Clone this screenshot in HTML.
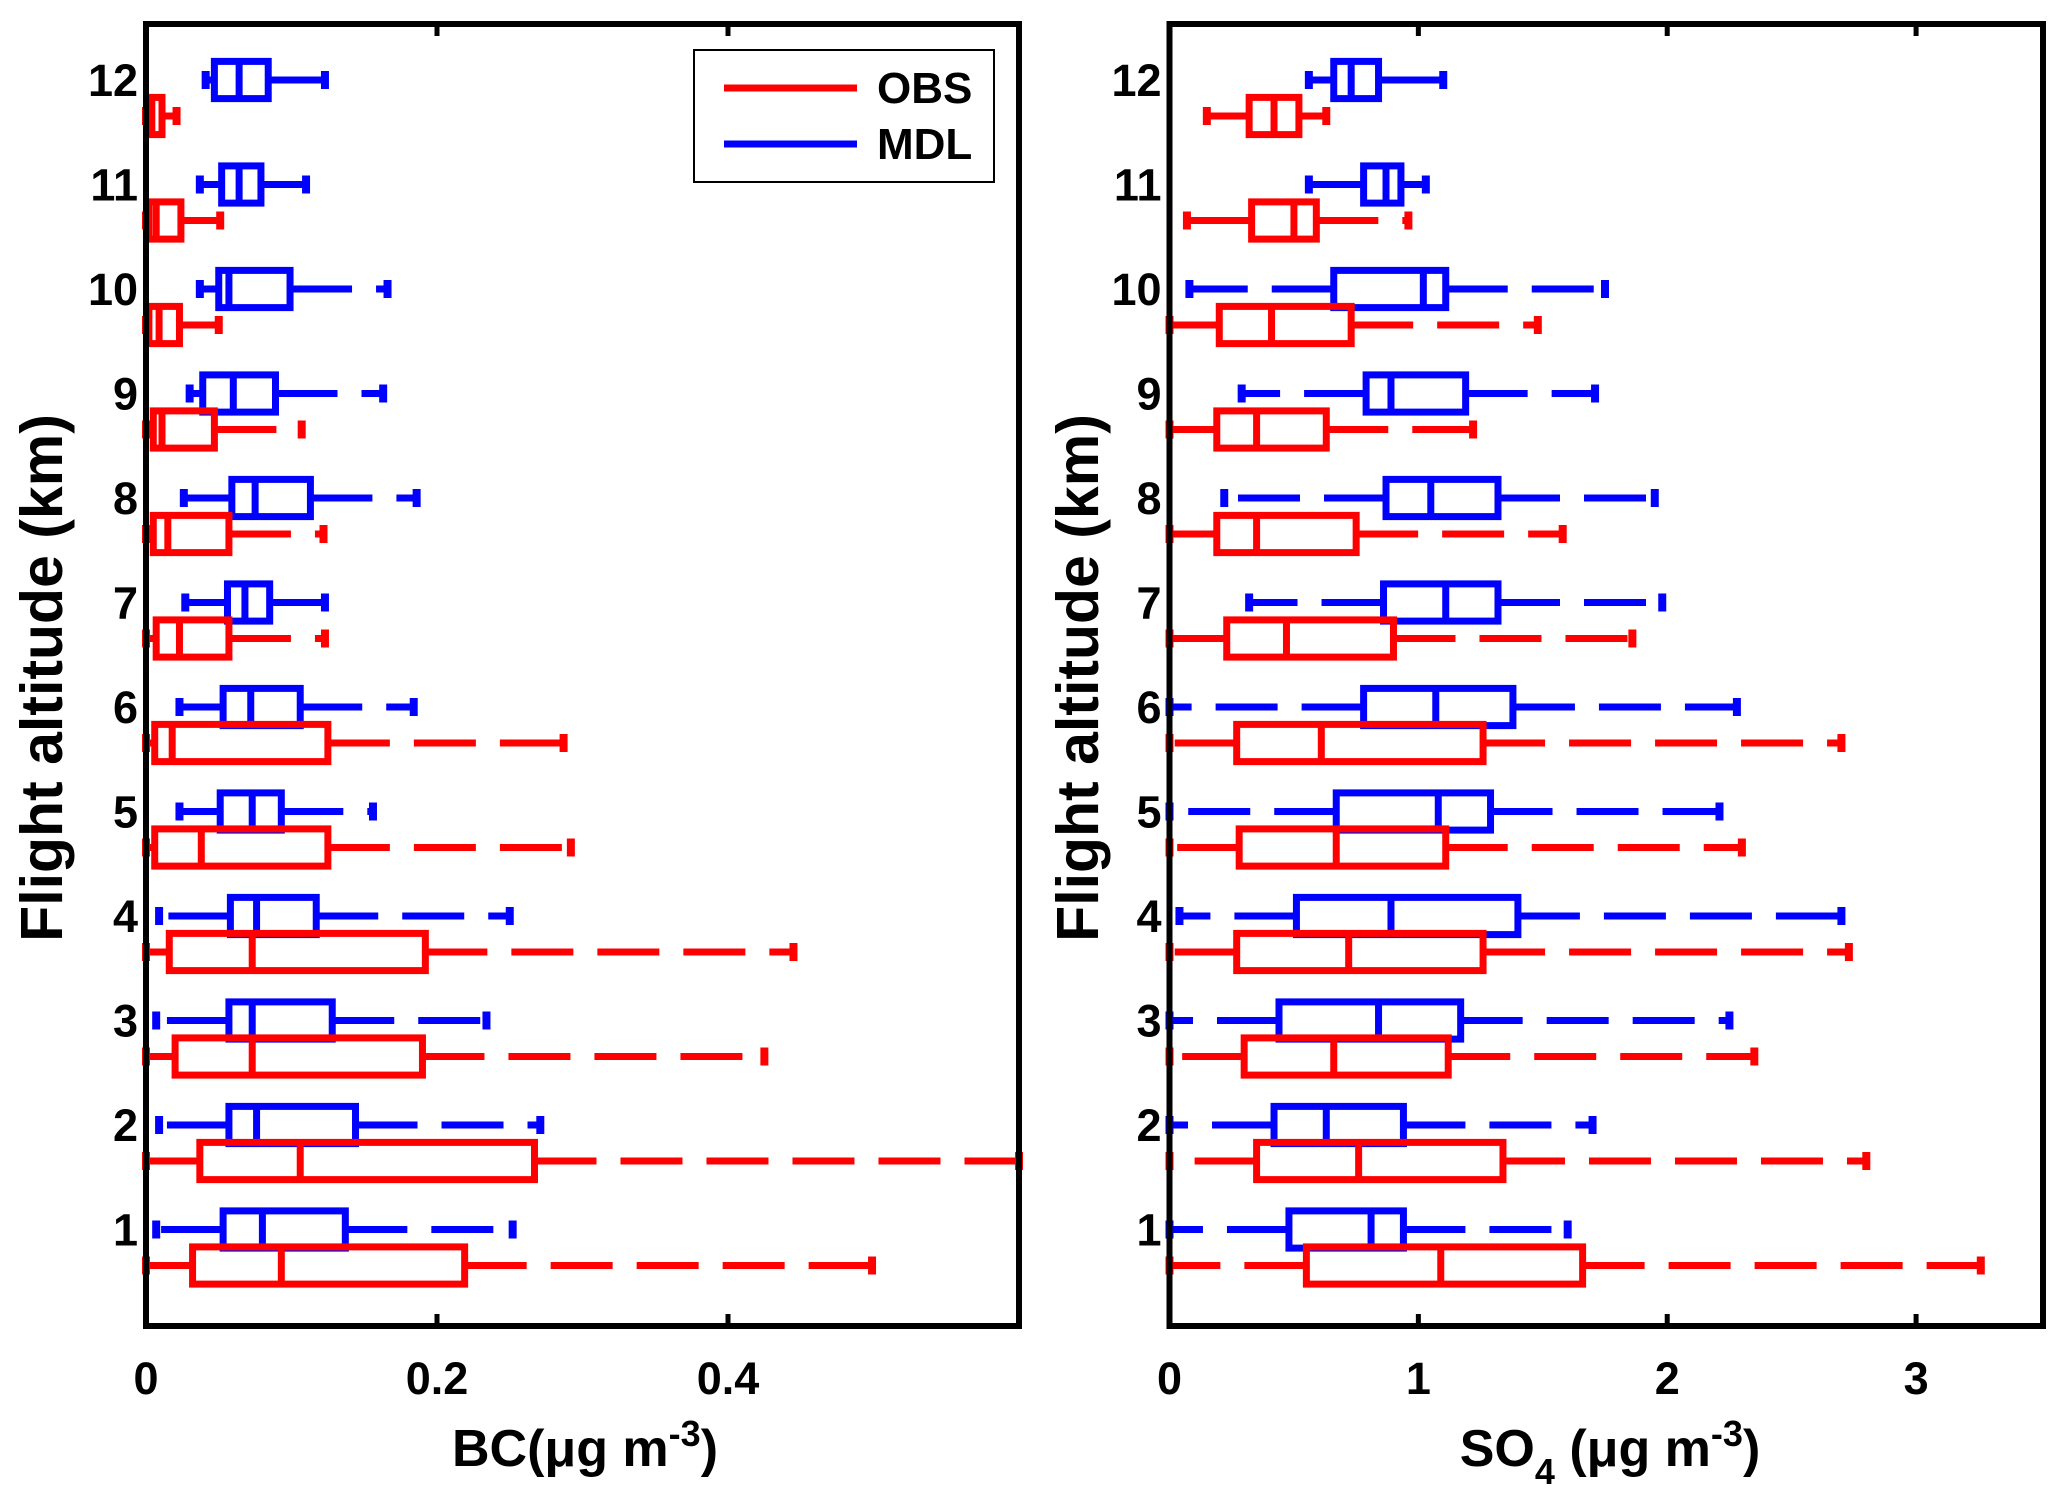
<!DOCTYPE html>
<html><head><meta charset="utf-8"><style>
html,body{margin:0;padding:0;background:#fff;}
svg text{font-family:"Liberation Sans Narrow","Liberation Sans",sans-serif;font-weight:bold;fill:#000;}
</style></head><body>
<svg id="chart" width="2067" height="1496" viewBox="0 0 2067 1496" xmlns="http://www.w3.org/2000/svg">
<rect x="0" y="0" width="2067" height="1496" fill="#fff"/>
<g id="plots"></g>
<g>
<rect x="694" y="50" width="300" height="132" fill="#fff" stroke="#000" stroke-width="2"/>
<line x1="724" y1="88" x2="857" y2="88" stroke="#ff0000" stroke-width="7"/>
<text x="877" y="103" font-size="44">OBS</text>
<line x1="724" y1="144" x2="857" y2="144" stroke="#0000ff" stroke-width="7"/>
<text x="877" y="159" font-size="44">MDL</text>
</g>
<text transform="translate(62,678) rotate(-90)" text-anchor="middle" font-size="59" style="font-family:'Liberation Sans',sans-serif">Flight altitude (km)</text>
<text transform="translate(1098,678) rotate(-90)" text-anchor="middle" font-size="59" style="font-family:'Liberation Sans',sans-serif">Flight altitude (km)</text>
<text x="585" y="1466" text-anchor="middle" font-size="52">BC(μg m<tspan dy="-20" font-size="36">-3</tspan><tspan dy="20">)</tspan></text>
<text x="1610" y="1466" text-anchor="middle" font-size="52">SO<tspan dy="18" font-size="36">4</tspan><tspan dy="-18"> (μg m</tspan><tspan dy="-20" font-size="36">-3</tspan><tspan dy="20">)</tspan></text>
</svg>
<script>
const altitudes=[1,2,3,4,5,6,7,8,9,10,11,12];
// BC: [lo,q1,med,q3,hi] per altitude 1..12
const bcObs=[[0,.032,.093,.219,.499],[0,.037,.106,.267,.600],[0,.020,.073,.190,.425],[0,.016,.073,.192,.445],[0,.006,.038,.125,.292],[0,.006,.018,.125,.287],[0,.007,.023,.057,.123],[0,.005,.015,.057,.122],[0,.005,.011,.047,.107],[0,.002,.009,.023,.050],[0,.002,.007,.024,.051],[0,.001,.004,.011,.021]];
const bcMdl=[[.007,.053,.080,.137,.252],[.009,.057,.076,.144,.271],[.007,.057,.073,.128,.234],[.009,.058,.076,.117,.250],[.023,.051,.073,.093,.156],[.023,.053,.072,.106,.184],[.027,.056,.068,.085,.123],[.026,.059,.075,.113,.186],[.030,.039,.060,.089,.163],[.037,.050,.057,.099,.166],[.037,.052,.064,.079,.110],[.041,.047,.064,.084,.123]];
const so4Obs=[[0,.55,1.09,1.66,3.26],[0,.35,.76,1.34,2.80],[0,.30,.66,1.12,2.35],[0,.27,.72,1.26,2.73],[0,.28,.67,1.11,2.30],[0,.27,.61,1.26,2.70],[0,.23,.47,.90,1.86],[0,.19,.35,.75,1.58],[0,.19,.35,.63,1.22],[0,.20,.41,.73,1.48],[.07,.33,.50,.59,.96],[.15,.32,.42,.52,.63]];
const so4Mdl=[[0,.48,.81,.94,1.60],[0,.42,.63,.94,1.70],[0,.44,.84,1.17,2.25],[.04,.51,.89,1.40,2.70],[0,.67,1.08,1.29,2.21],[0,.78,1.07,1.38,2.28],[.32,.86,1.11,1.32,1.98],[.22,.87,1.05,1.32,1.95],[.29,.79,.89,1.19,1.71],[.08,.66,1.02,1.11,1.75],[.56,.78,.87,.93,1.03],[.56,.66,.73,.84,1.10]];
const bcTicks=[0,0.2,0.4];
const bcTickLabels=["0","0.2","0.4"];
const so4Ticks=[0,1,2,3];
const so4TickLabels=["0","1","2","3"];

const NS="http://www.w3.org/2000/svg";
const root=document.getElementById('plots');
const top0=24,bot0=1326;
function yPos(k){return 1229.5-(k-1)*104.5;}
function mk(tag,attrs,parent){const e=document.createElementNS(NS,tag);for(const k in attrs)e.setAttribute(k,attrs[k]);parent.appendChild(e);return e;}

function panel(name,x0,x1,xmax,obs,mdl,ticks,labels){
  const g=mk('g',{},root);
  
  
  const sx=v=>x0+v/xmax*(x1-x0);
  function box(d,yc,color,nm){
    const bg=mk('g',{},g);
    
    
    const [lo,q1,md,q3,hi]=d.map(sx);
    const h=14*1.329;
    const sw=7;
    mk('line',{x1:q3,y1:yc,x2:hi,y2:yc,stroke:color,'stroke-width':sw,'stroke-dasharray':'62 24'},bg);
    mk('line',{x1:q1,y1:yc,x2:lo,y2:yc,stroke:color,'stroke-width':sw,'stroke-dasharray':'62 24'},bg);
    mk('line',{x1:hi,y1:yc-9,x2:hi,y2:yc+9,stroke:color,'stroke-width':8},bg);
    mk('line',{x1:lo,y1:yc-9,x2:lo,y2:yc+9,stroke:color,'stroke-width':8},bg);
    mk('rect',{x:q1,y:yc-h,width:Math.max(q3-q1,1),height:2*h,fill:'none',stroke:color,'stroke-width':sw},bg);
    mk('line',{x1:md,y1:yc-h,x2:md,y2:yc+h,stroke:color,'stroke-width':sw},bg);
  }
  altitudes.forEach((a,i)=>{
    box(mdl[i],yPos(a),'#0000ff','mdl-box-'+a+'km');
    box(obs[i],yPos(a)+36,'#ff0000','obs-box-'+a+'km');
    const t=mk('text',{x:x0-8,y:yPos(a)+16,'text-anchor':'end','font-size':45},g);
    
    
    t.textContent=a;
  });
  mk('rect',{x:x0,y:top0,width:x1-x0,height:bot0-top0,fill:'none',stroke:'#000','stroke-width':6},g);
  ticks.forEach((v,i)=>{
    const x=sx(v);
    mk('line',{x1:x,y1:bot0,x2:x,y2:bot0-12,stroke:'#000','stroke-width':5},g);
    mk('line',{x1:x,y1:top0,x2:x,y2:top0+12,stroke:'#000','stroke-width':5},g);
    const t=mk('text',{x:x,y:1394,'text-anchor':'middle','font-size':45},g);
    
    
    t.textContent=labels[i];
  });
}
panel('bc-panel',146,1019,0.6,bcObs,bcMdl,bcTicks,bcTickLabels);
panel('so4-panel',1169.5,2043,3.51,so4Obs,so4Mdl,so4Ticks,so4TickLabels);
</script>
</body></html>
